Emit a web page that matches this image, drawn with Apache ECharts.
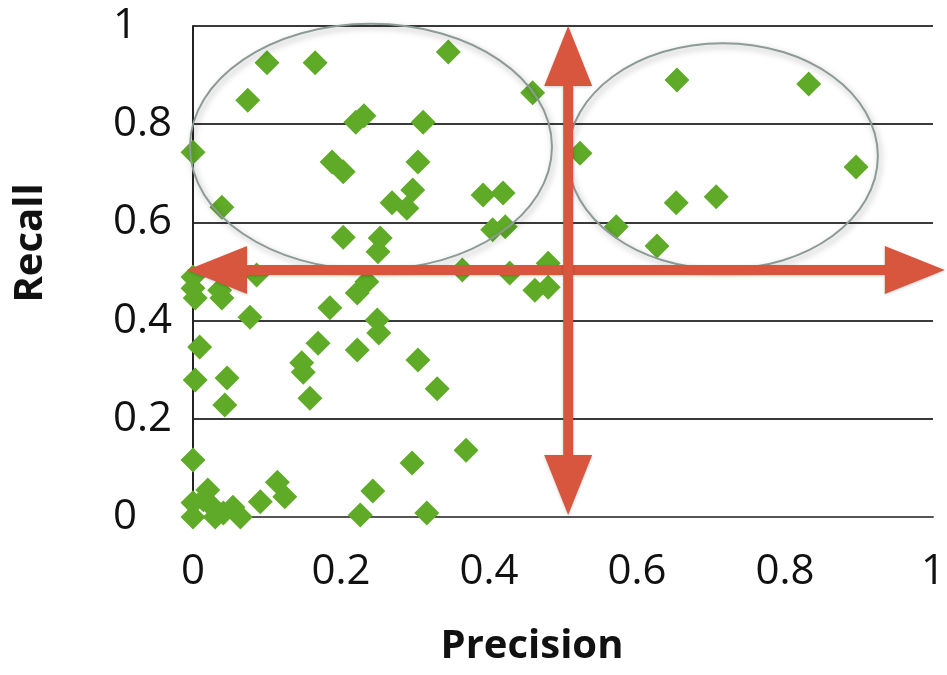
<!DOCTYPE html>
<html>
<head>
<meta charset="utf-8">
<script src="https://cdn.jsdelivr.net/npm/echarts@6/dist/echarts.min.js"></script>
<style>
  html, body { margin: 0; padding: 0; background: #fff; }
  #chart { width: 947px; height: 675px; }
</style>
</head>
<body>
<div id="chart"></div>
<script>
// precision / recall pairs
const precision = [
  0.000, 0.039, 0.074, 0.100, 0.165, 0.220, 0.231, 0.188, 0.203, 0.345,
  0.459, 0.311, 0.304, 0.297, 0.269, 0.289, 0.203, 0.253, 0.250, 0.392,
  0.419, 0.405, 0.422, 0.364, 0.428, 0.480, 0.462, 0.480, 0.222, 0.235,
  0.523, 0.654, 0.832, 0.896, 0.707, 0.653, 0.572, 0.627, 0.086, 0.000,
  0.000, 0.003, 0.036, 0.039, 0.077, 0.185, 0.249, 0.251, 0.009, 0.169,
  0.222, 0.003, 0.046, 0.043, 0.147, 0.149, 0.158, 0.304, 0.330, 0.000,
  0.369, 0.296, 0.243, 0.316, 0.226, 0.114, 0.124, 0.091, 0.020, 0.000,
  0.000, 0.027, 0.041, 0.054, 0.064, 0.014, 0.030
];
const recall = [
  0.743, 0.631, 0.849, 0.925, 0.925, 0.804, 0.817, 0.723, 0.703, 0.947,
  0.864, 0.804, 0.723, 0.666, 0.640, 0.629, 0.570, 0.568, 0.540, 0.656,
  0.660, 0.585, 0.591, 0.503, 0.497, 0.517, 0.462, 0.468, 0.456, 0.479,
  0.741, 0.890, 0.882, 0.713, 0.652, 0.640, 0.591, 0.552, 0.493, 0.489,
  0.466, 0.446, 0.462, 0.446, 0.407, 0.426, 0.401, 0.375, 0.346, 0.354,
  0.340, 0.279, 0.283, 0.228, 0.314, 0.295, 0.242, 0.320, 0.261, 0.116,
  0.136, 0.110, 0.053, 0.008, 0.004, 0.071, 0.041, 0.031, 0.055, 0.029,
  0.000, 0.020, 0.008, 0.020, 0.000, 0.035, 0.000
];
const ticks = ['0', '0.2', '0.4', '0.6', '0.8', '1'];

// annotations, in data units
const ellipses = [
  { cx: 0.2405, cy: 0.754, rx: 0.2446, ry: 0.2505 },
  { cx: 0.716, cy: 0.735, rx: 0.2095, ry: 0.230 }
];
const arrows = [
  { from: [-0.008, 0.503], to: [1.016, 0.503] },
  { from: [0.507, 1.0], to: [0.507, 0.004] }
];

const chart = echarts.init(document.getElementById('chart'));
const font = 'Open Sans';

const option = {
  animation: false,
  grid: { left: 193, top: 26, right: 14, bottom: 158, containLabel: false, outerBoundsMode: 'none' },
  xAxis: {
    type: 'value', min: 0, max: 1, interval: 0.2,
    name: 'Precision', nameLocation: 'middle', nameGap: 110,
    nameTextStyle: { fontFamily: font, fontWeight: 'bold', fontSize: 40, color: '#111', padding: [0, 62, 0, 0] },
    axisLine: { show: true, lineStyle: { color: '#555', width: 2 } },
    axisTick: { show: false },
    splitLine: { show: false },
    axisLabel: {
      margin: 34, fontFamily: font, fontSize: 42, color: '#111',
      formatter: (v) => ticks[Math.round(v * 5)]
    }
  },
  yAxis: {
    type: 'value', min: 0, max: 1, interval: 0.2,
    axisLine: { show: true, lineStyle: { color: '#222', width: 2 } },
    axisTick: { show: false },
    splitLine: { show: true, lineStyle: { color: '#3a3a3a', width: 2 } },
    axisLabel: {
      margin: 80, align: 'left', fontFamily: font, fontSize: 42, color: '#111',
      formatter: (v) => ticks[Math.round(v * 5)]
    }
  },
  series: [{
    type: 'scatter',
    symbol: 'diamond',
    symbolSize: 25,
    clip: false,
    itemStyle: { color: '#5fab28', opacity: 1 },
    data: precision.map((p, i) => [p, recall[i]])
  }]
};
chart.setOption(option);

// draw the ellipses and arrows on top, placed through the axes
function px(pt) { return chart.convertToPixel({ gridIndex: 0 }, pt); }

function arrowPoints(a, b, shaft, headLen, headHalf) {
  const dx = b[0] - a[0], dy = b[1] - a[1];
  const len = Math.sqrt(dx * dx + dy * dy);
  const ux = dx / len, uy = dy / len, nx = -uy, ny = ux;
  const s = shaft / 2;
  const p = (base, along, side) => [base[0] + ux * along + nx * side, base[1] + uy * along + ny * side];
  return [
    a, p(a, headLen, headHalf), p(a, headLen, s), p(b, -headLen, s), p(b, -headLen, headHalf),
    b, p(b, -headLen, -headHalf), p(b, -headLen, -s), p(a, headLen, -s), p(a, headLen, -headHalf)
  ];
}

const graphics = [];
ellipses.forEach((e) => {
  const c = px([e.cx, e.cy]);
  const r = px([e.cx + e.rx, e.cy + e.ry]);
  graphics.push({
    type: 'ellipse', z: 100,
    shape: { cx: c[0], cy: c[1], rx: Math.abs(r[0] - c[0]), ry: Math.abs(r[1] - c[1]) },
    style: {
      fill: null, stroke: '#8c9a98', lineWidth: 2,
      shadowBlur: 6, shadowColor: 'rgba(0,0,0,0.35)', shadowOffsetX: 2, shadowOffsetY: 3
    }
  });
});
arrows.forEach((a) => {
  graphics.push({
    type: 'polygon', z: 101,
    shape: { points: arrowPoints(px(a.from), px(a.to), 10, 60, 24) },
    style: { fill: '#d8553e', shadowBlur: 3, shadowColor: 'rgba(0,0,0,0.2)', shadowOffsetY: 1 }
  });
});
// y axis title, rotated
graphics.push({
  type: 'text', x: 31, y: 243, rotation: Math.PI / 2,
  style: {
    text: 'Recall', fontFamily: font, fontWeight: 'bold', fontSize: 40, fill: '#111',
    align: 'center', verticalAlign: 'middle'
  }
});
chart.setOption({ graphic: graphics });
</script>
</body>
</html>
